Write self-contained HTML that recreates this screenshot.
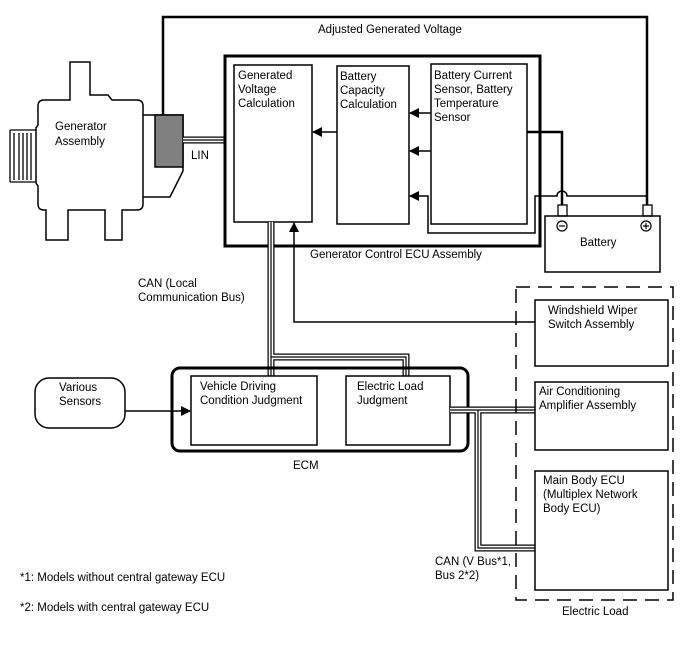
<!DOCTYPE html>
<html><head><meta charset="utf-8"><style>
html,body{margin:0;padding:0;background:#fff}
svg{display:block}
text{font-family:"Liberation Sans",Arial,sans-serif;font-size:11.5px;fill:#000}
</style></head><body>
<svg width="688" height="658" viewBox="0 0 688 658" xmlns="http://www.w3.org/2000/svg">
<defs>
<marker id="ar" markerWidth="10" markerHeight="10" refX="9" refY="5" orient="auto" markerUnits="userSpaceOnUse">
<path d="M0,0 L10,5 L0,10 Z" fill="#000"/></marker>
</defs>
<g fill="none" stroke="#000">
<path d="M163,115 V17 H647 V205" stroke-width="2.5"/>
<path d="M70,100 V62 H90 V95 H108 L112,100 H137 Q143,100 143,106 V204 Q143,210 137,210 H122 V240 H105 V210 H68 V240 H46 V210 H44 Q38,210 38,204 V186 L36,183 V128 L38,125 V106 Q38,100 44,100 Z" stroke-width="1.5"/>
<path d="M143,115 H183 V171 L170,197 H143" stroke-width="1.5"/>
<rect x="155" y="115" width="28" height="52" fill="#808080" stroke-width="1.5"/>
<path d="M10,130 H36 M10,182 H36 M10,130 V182 M14,133 V180 M19,133 V180 M23,133 V180 M27,133 V180 M31,133 V180" stroke-width="1.3"/>
<path d="M183,140 H226" stroke-width="7"/><path d="M183,140 H226" stroke="#fff" stroke-width="4.5"/><path d="M183,140 H226" stroke-width="1.2"/>
<rect x="225" y="56" width="315" height="190" stroke-width="3"/>
<rect x="234" y="65" width="78" height="157" stroke-width="1.5"/>
<rect x="337" y="66" width="72" height="158" stroke-width="1.5"/>
<rect x="431" y="64" width="96" height="160" stroke-width="1.5"/>
<path d="M337,132 H313" stroke-width="1.5" marker-end="url(#ar)"/>
<path d="M431,113 H410" stroke-width="1.5" marker-end="url(#ar)"/>
<path d="M431,151 H410" stroke-width="1.5" marker-end="url(#ar)"/>
<path d="M428,224 V196 H410" stroke-width="1.5" marker-end="url(#ar)"/>
<path d="M428,224 V233 H535 V196 H557 A5,5 0 0 1 567,196 H647" stroke-width="1.5"/>
<path d="M527,132 H562 V205" stroke-width="2.5"/>
<rect x="545" y="216" width="115" height="56" stroke-width="1.5"/>
<rect x="558" y="205" width="9" height="11" stroke-width="1.3"/>
<rect x="643" y="205" width="9" height="11" stroke-width="1.3"/>
<circle cx="562" cy="226" r="5" stroke-width="1.2"/><path d="M559,226 H565" stroke-width="1.2"/>
<circle cx="646" cy="226" r="5" stroke-width="1.2"/><path d="M643,226 H649 M646,223 V229" stroke-width="1.2"/>
<path d="M271,222 V376 M271,357 H406 V376" stroke-width="7"/>
<path d="M271,222 V376 M271,357 H406 V376" stroke="#fff" stroke-width="4.5"/>
<path d="M271,222 V376 M271,357 H406 V376" stroke-width="1.2"/>
<path d="M535,322 H294 V223" stroke-width="1.5" marker-end="url(#ar)"/>
<rect x="172" y="368" width="296" height="83" rx="8" stroke-width="3"/>
<rect x="191" y="376" width="126" height="69" stroke-width="1.5" fill="#fff"/>
<rect x="346" y="376" width="104" height="69" stroke-width="1.5" fill="#fff"/>
<rect x="35" y="378" width="90" height="50" rx="14" stroke-width="1.5"/>
<path d="M125,411 H190" stroke-width="1.5" marker-end="url(#ar)"/>
<path d="M450,410 H535 M478,410 V548 H535" stroke-width="7"/>
<path d="M450,410 H535 M478,410 V548 H535" stroke="#fff" stroke-width="4.5"/>
<path d="M450,410 H535 M478,410 V548 H535" stroke-width="1.2"/>
<rect x="516" y="287" width="157" height="313" stroke-width="1.5" stroke-dasharray="14,8"/>
<rect x="535" y="300" width="133" height="66" stroke-width="1.5" fill="#fff"/>
<rect x="535" y="382" width="133" height="68" stroke-width="1.5" fill="#fff"/>
<rect x="535" y="471" width="133" height="119" stroke-width="1.5" fill="#fff"/>
</g>
<text x="318" y="33">Adjusted Generated Voltage</text>
<text x="55" y="130">Generator</text><text x="55" y="145">Assembly</text>
<text x="191" y="159">LIN</text>
<text x="238" y="79">Generated</text><text x="238" y="93">Voltage</text><text x="238" y="107">Calculation</text>
<text x="340" y="80">Battery</text><text x="340" y="94">Capacity</text><text x="340" y="108">Calculation</text>
<text x="434" y="79">Battery Current</text><text x="434" y="93">Sensor, Battery</text><text x="434" y="107">Temperature</text><text x="434" y="121">Sensor</text>
<text x="580" y="246">Battery</text>
<text x="310" y="258">Generator Control ECU Assembly</text>
<text x="138" y="287">CAN (Local</text><text x="138" y="301">Communication Bus)</text>
<text x="548" y="314">Windshield Wiper</text><text x="548" y="328">Switch Assembly</text>
<text x="59" y="391">Various</text><text x="59" y="405">Sensors</text>
<text x="200" y="390">Vehicle Driving</text><text x="200" y="404">Condition Judgment</text>
<text x="357" y="390">Electric Load</text><text x="357" y="404">Judgment</text>
<text x="539" y="395">Air Conditioning</text><text x="539" y="409">Amplifier Assembly</text>
<text x="293" y="469">ECM</text>
<text x="543" y="484">Main Body ECU</text><text x="543" y="498">(Multiplex Network</text><text x="543" y="512">Body ECU)</text>
<text x="435" y="565">CAN (V Bus*1,</text><text x="435" y="579">Bus 2*2)</text>
<text x="20" y="581">*1: Models without central gateway ECU</text>
<text x="20" y="611">*2: Models with central gateway ECU</text>
<text x="562" y="615">Electric Load</text>
</svg>
</body></html>
